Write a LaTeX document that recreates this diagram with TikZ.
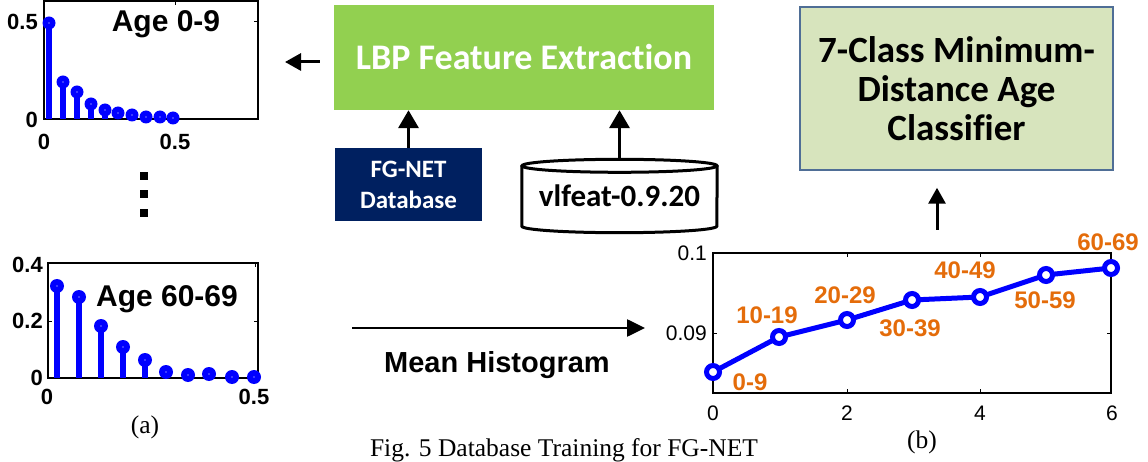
\documentclass[tikz,border=0pt]{standalone}
\usepackage{fontspec}
\setmainfont{Liberation Serif}
\newfontfamily\arl{Liberation Sans}
\newfontfamily\clb{Carlito}[Ligatures=NoCommon]
\usetikzlibrary{arrows.meta,calc}
\definecolor{lbpgreen}{RGB}{146,208,80}
\definecolor{navy}{RGB}{0,32,96}
\definecolor{clsfill}{RGB}{215,228,189}
\definecolor{clsdraw}{RGB}{79,110,150}
\definecolor{orng}{RGB}{228,108,10}
\definecolor{pblue}{RGB}{0,0,255}
\tikzset{
  axisbox/.style={draw=black,line width=1.3pt},
  tick/.style={draw=black,line width=1pt},
  stem/.style={draw=pblue,line width=5.5pt},
  dotm/.style={fill=pblue},
  agelbl/.style={inner sep=0pt,anchor=base,font=\arl\bfseries\fontsize{30}{36}\selectfont},
  tickb/.style={inner sep=0pt,font=\arl\bfseries\fontsize{22}{26}\selectfont},
  tickr/.style={inner sep=0pt,font=\arl\fontsize{21}{25}\selectfont},
  orl/.style={inner sep=0pt,text=orng,font=\arl\bfseries\fontsize{24}{28}\selectfont},
  serif/.style={inner sep=0pt,anchor=base,font=\fontsize{25.5}{30}\selectfont},
  arr/.style={draw=black,line width=3.5pt,-{Triangle[length=18pt,width=20pt]}},
  arrs/.style={draw=black,line width=3pt,-{Triangle[length=16pt,width=17pt]}},
  cylline/.style={draw=black,line width=3pt},
}
\begin{document}
\begin{tikzpicture}[x=1pt,y=-1pt]
\useasboundingbox (0,0) rectangle (1148,462);

% ---------- top-left histogram ----------
\draw[axisbox] (44,1) rectangle (258,119);
\draw[tick] (44,22)--(48,22) (258,22)--(254,22) (175,119)--(175,115) (175,1)--(175,5);
\foreach \x/\y in {49/23,63/82,77/92,91/104,105/110,118/113,132/115,146/117,160/117,173/118}{
  \draw[stem] (\x,119) -- (\x,\y);
  \fill[dotm] (\x,\y) circle[radius=6.5pt];
  \fill[white] (\x,\y) circle[radius=0.7pt];
}
\node[tickb,anchor=east] (t1a) at (38,22) {0.5};
\node[tickb,anchor=east] (t1b) at (38,120) {0};
\node[tickb] (t1c) at (44,142) {0};
\node[tickb] (t1d) at (175,142) {0.5};
\node[agelbl] (age1) at (166,32) {Age 0-9};

% vertical dots
\foreach \y [count=\i] in {176,194,213}{
  \node[fill=black,minimum size=8pt,inner sep=0pt] (dot\i) at (144,\y) {};
}

% ---------- bottom-left histogram ----------
\draw[axisbox] (48,263) rectangle (258,378);
\draw[tick] (48,264)--(52,264) (48,321)--(52,321) (258,264)--(254,264) (258,321)--(254,321)
            (255,378)--(255,374) (255,263)--(255,267);
\foreach \x/\y in {57/286,79/297,101/326,123/347,145/360,166/372,188/375,209/374,232/377,254/377}{
  \draw[stem] (\x,378) -- (\x,\y);
  \fill[dotm] (\x,\y) circle[radius=7pt];
  \fill[white] (\x,\y) circle[radius=0.7pt];
}
\node[tickb,anchor=east] (t2a) at (43,265) {0.4};
\node[tickb,anchor=east] (t2b) at (43,321) {0.2};
\node[tickb,anchor=east] (t2c) at (43,378) {0};
\node[tickb] (t2d) at (47,397) {0};
\node[tickb] (t2e) at (254,397) {0.5};
\node[agelbl] (age2) at (167,306) {Age 60-69};
\node[serif] (capa) at (145,433) {(a)};

% ---------- boxes ----------
\node[fill=lbpgreen,minimum width=380pt,minimum height=105pt,inner sep=0pt,
      text=white,font=\clb\bfseries\fontsize{36}{40}\selectfont] (lbp) at (524,57.5) {LBP Feature Extraction};
\node[fill=navy,minimum width=147pt,minimum height=73pt,inner sep=0pt,align=center,
      text=white,font=\clb\bfseries\fontsize{25}{31}\selectfont] (fg) at (408.5,184.5) {FG-NET\\Database};
\node[minimum width=195pt,minimum height=73pt,inner sep=0pt,
      font=\clb\bfseries\fontsize{31}{36}\selectfont] (cyl) at (619.5,196) {vlfeat-0.9.20};
\draw[cylline] ($(cyl.north)+(0,6.5)$) ellipse[x radius=97.5pt,y radius=6.5pt];
\draw[cylline] ($(cyl.north west)+(0,6.5)$) -- ($(cyl.south west)+(0,-6.5)$)
   arc[start angle=180,end angle=360,x radius=97.5pt,y radius=6.5pt]
   -- ($(cyl.north east)+(0,6.5)$);
\node[fill=clsfill,draw=clsdraw,line width=1.5pt,minimum width=313pt,minimum height=163pt,inner sep=0pt,
      align=center,font=\clb\bfseries\fontsize{37}{39}\selectfont] (cls) at (956.5,88.5)
      {7-Class Minimum-\\Distance Age\\Classifier};

% ---------- arrows ----------
\coordinate (hist1) at (285,62);
\draw[arrs,shorten <=14pt] (lbp.west |- hist1) -- (hist1);
\draw[arr] (fg.north) -- (fg.north |- lbp.south);
\draw[arr] (cyl.north) -- (cyl.north |- lbp.south);
\coordinate (cin) at (937,230);
\draw[arrs,shorten >=17pt] (cin) -- (cin |- cls.south);
\coordinate (mh1) at (352,328);
\coordinate (mh2) at (645,328);
\draw[arrs,line width=2.6pt,-{Triangle[length=18pt,width=17pt]}] (mh1) -- (mh2);
\node[agelbl,font=\arl\bfseries\fontsize{29}{34}\selectfont] (mh) at (497,372) {Mean Histogram};

% ---------- right plot ----------
\draw[axisbox,line width=1.1pt] (713,253) rectangle (1111,393);
\draw[tick] (713,333)--(717,333) (1111,333)--(1107,333) (713,253)--(717,253) (1111,253)--(1107,253)
            (847,393)--(847,389) (980,393)--(980,389) (847,253)--(847,257) (980,253)--(980,257);
\draw[pblue,line width=5pt,line join=round]
  (713,372) -- (779,337) -- (847,320) -- (912,300) -- (980,297) -- (1046,275) -- (1111,268);
\foreach \x/\y in {713/372,779/337,847/320,912/300,980/297,1046/275,1111/268}{
  \draw[pblue,line width=5pt,fill=white] (\x,\y) circle[radius=6.5pt];
}
\node[tickr,anchor=east] (r1) at (707,253) {0.1};
\node[tickr,anchor=east] (r2) at (707,333) {0.09};
\node[tickr] (r3) at (713,413) {0};
\node[tickr] (r4) at (847,413) {2};
\node[tickr] (r5) at (980,413) {4};
\node[tickr] (r6) at (1112,413) {6};
\node[orl] (o1) at (750,382) {0-9};
\node[orl] (o2) at (767,315) {10-19};
\node[orl] (o3) at (845,295) {20-29};
\node[orl] (o4) at (910,328) {30-39};
\node[orl] (o5) at (965,270) {40-49};
\node[orl] (o6) at (1045,300) {50-59};
\node[orl] (o7) at (1108,242) {60-69};
\node[serif] (capb) at (922,448) {(b)};

\node[serif] (caption) at (564,456) {Fig. 5 Database Training for FG-NET};
\end{tikzpicture}
\end{document}
